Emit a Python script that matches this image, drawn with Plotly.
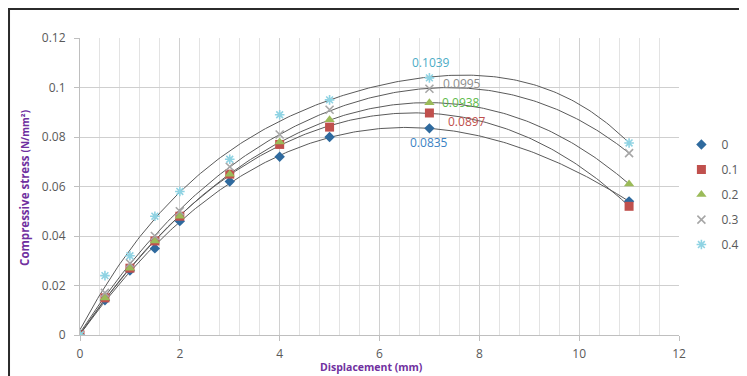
import numpy as np
import plotly.graph_objects as go

# ---- data ----
displacement = [0, 0.5, 1, 1.5, 2, 3, 4, 5, 7, 11]
series_names = ["0", "0.1", "0.2", "0.3", "0.4"]
s0 = [0, 0.014, 0.026, 0.035, 0.046, 0.062, 0.072, 0.080, 0.0835, 0.054]
s1 = [0, 0.015, 0.027, 0.038, 0.048, 0.065, 0.077, 0.084, 0.0897, 0.052]
s2 = [0, 0.015, 0.027, 0.038, 0.048, 0.065, 0.078, 0.087, 0.0938, 0.061]
s3 = [0, 0.017, 0.029, 0.040, 0.050, 0.068, 0.081, 0.091, 0.0995, 0.0735]
s4 = [0, 0.024, 0.032, 0.048, 0.058, 0.071, 0.089, 0.095, 0.1039, 0.0776]
peak_labels = ["0.0835", "0.0897", "0.0938", "0.0995", "0.1039"]
x_ticks = [0, 2, 4, 6, 8, 10, 12]
y_ticks = [0, 0.02, 0.04, 0.06, 0.08, 0.1, 0.12]

all_series = [s0, s1, s2, s3, s4]
marker_colors = ["#2F6A9E", "#C0504D", "#9BBB59", "#A6A6A6", "#8FD3E3"]
marker_symbols = ["diamond", "square", "triangle-up", "x-thin", "asterisk"]
marker_sizes = [8, 9, 9, 8, 8]
label_colors = ["#3B82C4", "#C0504D", "#5DBB4A", "#8C8C8C", "#4BACC6"]
label_shift = [(0, -14), (38, -9), (32, 0), (33, 5), (2, 15)]

FONT = "'Open Sans', Lato, sans-serif"
fig = go.Figure()

# polynomial (order 4) trendlines
xs = np.linspace(0, 11, 220)
for ser in all_series:
    coef = np.polyfit(displacement, ser, 4)
    fig.add_trace(go.Scatter(x=xs, y=np.polyval(coef, xs), mode="lines",
                             line=dict(color="#5A5A5A", width=1),
                             showlegend=False, hoverinfo="skip"))

for i, ser in enumerate(all_series):
    lw = 1.6 if marker_symbols[i] in ("x-thin", "asterisk") else 0
    fig.add_trace(go.Scatter(
        x=displacement, y=ser, mode="markers", name=series_names[i],
        legendgroup=series_names[i],
        marker=dict(symbol=marker_symbols[i], color=marker_colors[i], size=marker_sizes[i],
                    line=dict(color=marker_colors[i], width=lw))))

for i, ser in enumerate(all_series):
    dx, dy = label_shift[i]
    fig.add_annotation(x=displacement[8], y=ser[8], text=peak_labels[i], showarrow=False,
                       xshift=dx, yshift=dy,
                       font=dict(family=FONT, size=12, color=label_colors[i]))

fig.add_annotation(xref="paper", yref="paper", x=-0.092, y=0.495, xanchor="center", yanchor="middle",
                   textangle=-90,
                   text="<b>Compressive stress </b><span style='font-size:10px'><b>(N/mm²)</b></span>",
                   showarrow=False, font=dict(family=FONT, size=11.5, color="#7030A0"))
fig.add_annotation(xref="paper", yref="paper", x=0.486, y=-0.1077, xanchor="center", yanchor="middle",
                   text="<b>Displacement (mm)</b>", showarrow=False,
                   font=dict(family=FONT, size=10.5, color="#7030A0"))

fig.add_shape(type="rect", xref="paper", yref="paper", x0=-0.1185, x1=1.108, y0=-0.2, y1=1.0976,
              line=dict(color="#2B2B2B", width=2), fillcolor="rgba(0,0,0,0)", layer="above")

fig.update_layout(
    width=739, height=368,
    margin=dict(l=72, r=68, t=30, b=41, autoexpand=False),
    paper_bgcolor="white", plot_bgcolor="white",
    font=dict(family=FONT, size=12, color="#595959"),
    legend=dict(x=1.004, y=0.69, xanchor="left", yanchor="top",
                traceorder="grouped", tracegroupgap=6, itemwidth=30,
                font=dict(family=FONT, size=12, color="#595959"),
                bgcolor="rgba(0,0,0,0)"),
    xaxis=dict(range=[0, 12], tickvals=x_ticks, ticktext=[str(v) for v in x_ticks],
               showgrid=True, gridcolor="#D0D0D0", gridwidth=1,
               minor=dict(dtick=0.4, showgrid=True, gridcolor="#E3E3E3", gridwidth=1),
               showline=True, linecolor="#BFBFBF", ticks="outside", ticklen=5,
               tickcolor="#BFBFBF", zeroline=False, fixedrange=True, ticklabelstandoff=3,
               tickfont=dict(size=12, color="#595959")),
    yaxis=dict(range=[0, 0.12], tickvals=y_ticks,
               showgrid=True, gridcolor="#CFCFCF", gridwidth=1,
               showline=True, linecolor="#BFBFBF", ticks="outside", ticklen=5,
               tickcolor="#BFBFBF", zeroline=False, fixedrange=True, ticklabelstandoff=6,
               tickfont=dict(size=12, color="#595959")),
)

fig.write_html("out.html")
